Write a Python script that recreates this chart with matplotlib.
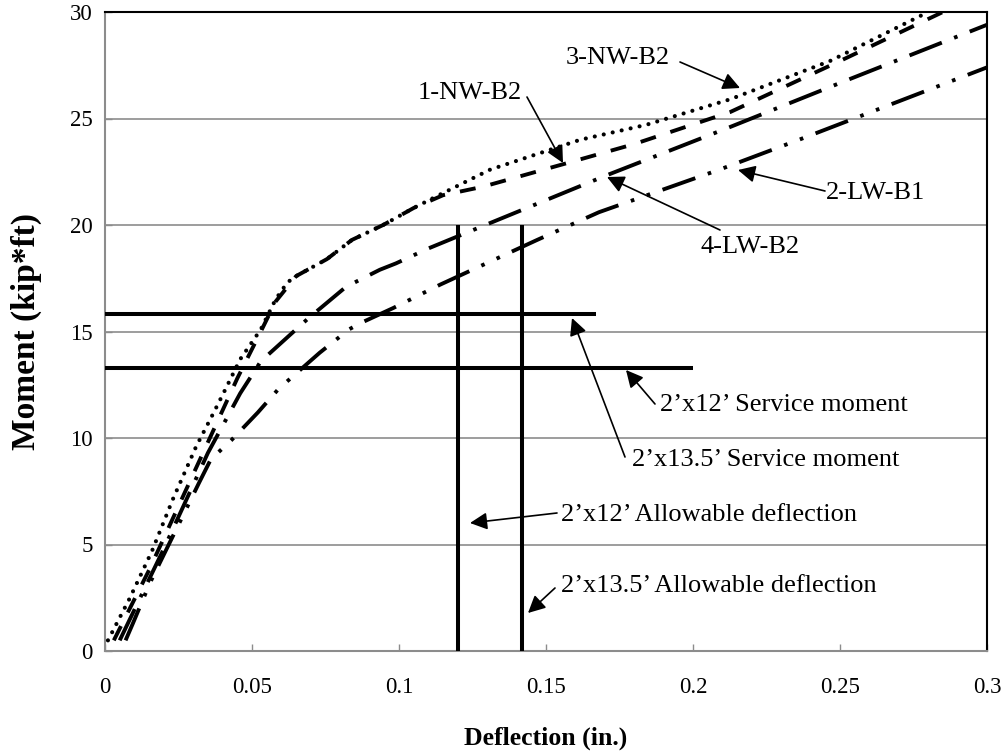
import matplotlib
matplotlib.use("Agg")
import matplotlib.pyplot as plt

plt.rcParams['font.family'] = ['Liberation Serif', 'DejaVu Serif']
plt.rcParams['lines.scale_dashes'] = False

# ---------------- data ----------------
x_3nw = [0.001, 0.0085, 0.016, 0.023, 0.031, 0.037, 0.041, 0.046, 0.053, 0.058, 0.062, 0.065,
         0.0755, 0.084, 0.0946, 0.105, 0.115, 0.131, 0.1616, 0.184, 0.2126, 0.2466, 0.28]
y_3nw = [0.5, 2.5, 4.7, 7.1, 9.6, 11.2, 12.3, 13.7, 15.1, 16.5, 17.3, 17.6,
         18.4, 19.3, 20.0, 20.8, 21.5, 22.6, 24.0, 24.7, 25.9, 27.7, 30.0]

x_1nw = [0.003, 0.015, 0.03, 0.045, 0.053, 0.058, 0.065, 0.0755, 0.084, 0.0946, 0.105, 0.115,
         0.1286, 0.157, 0.18, 0.2126, 0.25, 0.285]
y_1nw = [0.5, 3.8, 8.3, 12.8, 15.0, 16.4, 17.6, 18.4, 19.3, 20.0, 20.8, 21.4,
         21.8, 22.9, 23.8, 25.3, 27.7, 30.0]

x_4lw = [0.005, 0.02, 0.035, 0.046, 0.053, 0.069, 0.082, 0.0935, 0.099, 0.11, 0.1276, 0.17,
         0.2126, 0.2524, 0.3]
y_4lw = [0.5, 4.8, 9.3, 12.1, 13.6, 15.6, 17.1, 17.9, 18.2, 18.9, 19.9, 22.3,
         24.6, 26.8, 29.4]

x_2lw = [0.007, 0.0095, 0.0153, 0.032, 0.036, 0.043, 0.052, 0.059, 0.073, 0.083, 0.087, 0.098,
         0.114, 0.147, 0.168, 0.209, 0.236, 0.3]
y_2lw = [0.5, 1.3, 3.2, 7.9, 9.0, 9.9, 11.2, 12.3, 14.0, 15.1, 15.4, 16.1,
         17.2, 19.3, 20.6, 22.6, 24.0, 27.4]

service_moment = [15.8, 13.3]          # 2'x13.5', 2'x12'
service_extent = [0.167, 0.2]
allow_defl = [0.12, 0.142]             # 2'x12', 2'x13.5'
allow_top = [20, 20]

xticks = [0, 0.05, 0.1, 0.15, 0.2, 0.25, 0.3]
xticklabels = ['0', '0.05', '0.1', '0.15', '0.2', '0.25', '0.3']
yticks = [0, 5, 10, 15, 20, 25, 30]

# ---------------- figure ----------------
fig = plt.figure(figsize=(10.05, 7.53), dpi=100)
ax = fig.add_axes([105/1005, 1 - 651/753, (987 - 105)/1005, (651 - 12)/753])

ax.set_xlim(0, 0.3)
ax.set_ylim(0, 30)
for yv in [5, 10, 15, 20, 25]:
    ax.axhline(yv, color='#8c8c8c', lw=1.2, zorder=1)

lw = 2.8
# reference lines
for m, e in zip(service_moment, service_extent):
    ax.plot([0, e], [m, m], color='black', lw=2.9, solid_capstyle='butt', zorder=3)
for d, t in zip(allow_defl, allow_top):
    ax.plot([d, d], [0, t], color='black', lw=2.9, solid_capstyle='butt', zorder=3)

# curves
ax.plot(x_3nw, y_3nw, color='black', lw=lw + 0.2, dashes=(0.01, 6.6),
        dash_capstyle='round', zorder=4)
ax.plot(x_1nw, y_1nw, color='black', lw=lw, dashes=(11.5, 11.0),
        dash_capstyle='butt', zorder=4)
ax.plot(x_4lw, y_4lw, color='black', lw=lw, dashes=(25, 9.5, 2.6, 9.5),
        dash_capstyle='butt', zorder=4)
ax.plot(x_2lw, y_2lw, color='black', lw=lw, dashes=(25, 9.5, 2.6, 9.5, 2.6, 9.5),
        dash_capstyle='butt', zorder=4)

# axes styling
ax.set_xticks(xticks)
ax.set_xticklabels(xticklabels)
ax.set_yticks(yticks)
ax.tick_params(axis='both', direction='in', length=5, width=1, color='#8c8c8c',
               labelsize=16.5)
ax.tick_params(axis='x', pad=19)
ax.tick_params(axis='y', pad=9)
for s in ['left', 'bottom']:
    ax.spines[s].set_color('#8c8c8c')
    ax.spines[s].set_linewidth(1.5)
for s in ['top', 'right']:
    ax.spines[s].set_color('black')
    ax.spines[s].set_linewidth(1.5)

ax.set_xlabel('Deflection (in.)', fontsize=18.5, fontweight='bold', labelpad=20)
ax.set_ylabel('Moment (kip*ft)', fontsize=24, fontweight='bold', labelpad=20)

# annotations
def px2d(px, py):
    return ((px - 105) / 2940.0, (651 - py) / 21.3)

arrow = dict(arrowstyle='-|>', color='black', lw=1.2, mutation_scale=26,
             shrinkA=0, shrinkB=0)

annots = [
    ("3-NW-B2", (618, 58), (680, 62), (740, 88)),
    ("1-NW-B2", (470, 93), (527, 97), (563, 163)),
    ("2-LW-B1", (876, 193), (825, 191), (738, 170)),
    ("4-LW-B2", (750, 247), (720, 230), (607, 177)),
    ("2\u2019x12\u2019 Service moment", (784, 405), (655, 404), (626, 370)),
    ("2\u2019x13.5\u2019 Service moment", (766, 460), (625, 457), (572, 318)),
    ("2\u2019x12\u2019 Allowable deflection", (709, 515), (557, 513), (470, 523)),
    ("2\u2019x13.5\u2019 Allowable deflection", (719, 586), (555, 588), (528, 613)),
]
for txt, tpos, apos, tip in annots:
    ax.text(*px2d(*tpos), txt, fontsize=19, ha='center', va='center', zorder=6)
    ax.annotate('', xy=px2d(*tip), xytext=px2d(*apos), arrowprops=arrow, zorder=6)

fig.savefig('out.png', dpi=100)
